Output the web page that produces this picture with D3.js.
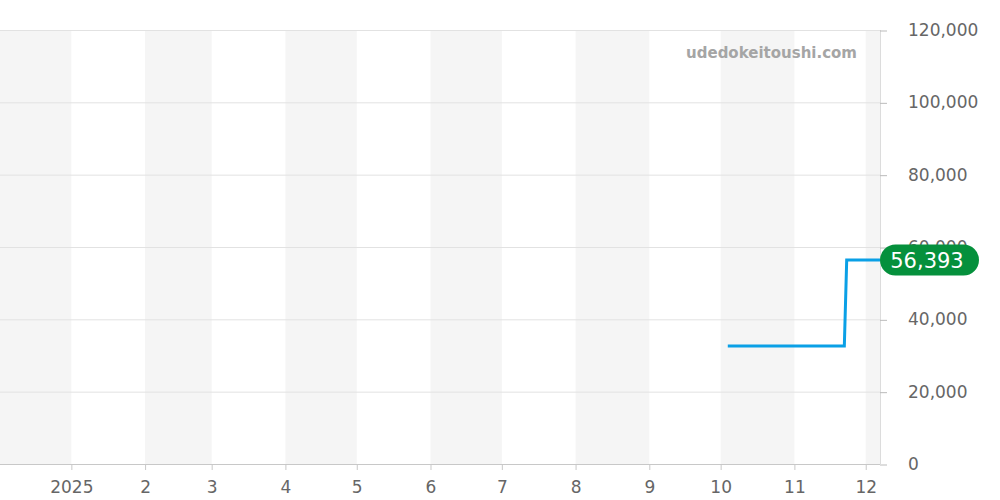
<!DOCTYPE html>
<html><head><meta charset="utf-8">
<script src="https://cdn.jsdelivr.net/npm/d3@7"></script>
<style>body{margin:0;background:#fff;font-family:"DejaVu Sans",sans-serif}</style>
</head><body><svg id="c" width="1000" height="500"></svg>
<script>
const dates = ["2025-10-04","2025-11-22","2025-11-23","2025-12-07"];
const prices = [32600, 32600, 56393, 56393];
const yTicks = [0,20000,40000,60000,80000,100000,120000];
const monthLabels = ["2025","2","3","4","5","6","7","8","9","10","11","12"];
const lastLabel = "56,393";
const watermark = "udedokeitoushi.com";

const parse = d3.timeParse("%Y-%m-%d");
const W=1000,H=500, L=0, R=880, T=30, B=464;
const svg = d3.select("#c");
const x = d3.scaleTime().domain([parse("2024-12-02"), parse("2025-12-07")]).range([L,R]);
const y = d3.scaleLinear().domain([0,120000]).range([B,T]);

// month bands
const months = d3.timeMonth.range(parse("2024-12-01"), parse("2026-01-01"));
svg.append("g").selectAll("rect").data(months.filter((m,i)=>i%2===0)).join("rect")
  .attr("x", d=>Math.max(L,x(d))).attr("y",T)
  .attr("width", d=>Math.min(R,x(d3.timeMonth.offset(d,1)))-Math.max(L,x(d)))
  .attr("height",B-T).attr("fill","#f5f5f5");

// grid
svg.append("g").selectAll("line").data(yTicks).join("line")
  .attr("x1",L).attr("x2",R).attr("y1",d=>y(d)+0.5).attr("y2",d=>y(d)+0.5)
  .attr("stroke","#e2e2e2");
svg.append("line").attr("x1",R+0.5).attr("x2",R+0.5).attr("y1",T).attr("y2",B).attr("stroke","#dcdcdc");

// y axis
const ya = svg.append("g").attr("transform",`translate(${R},0)`)
  .call(d3.axisRight(y).tickValues(yTicks).tickSize(7).tickPadding(21).tickFormat(d3.format(",")));
ya.select(".domain").remove();
ya.selectAll("line").attr("stroke","#bbb").attr("transform","translate(0,0.5)");
ya.selectAll("text").attr("fill","#666").attr("font-size",17).attr("font-family","DejaVu Sans");

// x axis
const tickDates = d3.timeMonth.range(parse("2025-01-01"), parse("2025-12-02"));
const xa = svg.append("g").attr("transform",`translate(0,${B})`)
  .call(d3.axisBottom(x).tickValues(tickDates).tickSize(6).tickPadding(11).tickFormat((d,i)=>monthLabels[i]));
xa.select(".domain").attr("d",`M${L},0.5H${R}`).attr("stroke","#c8c8c8");
xa.selectAll("line").attr("stroke","#c8c8c8");
xa.selectAll("text").attr("fill","#666").attr("font-size",17).attr("font-family","DejaVu Sans");

// line
const data = dates.map((d,i)=>({d:parse(d),v:prices[i]}));
svg.append("path").datum(data)
  .attr("d", d3.line().x(d=>x(d.d)).y(d=>y(d.v)))
  .attr("fill","none").attr("stroke","#0aa0e6").attr("stroke-width",3);

// watermark
svg.append("text").attr("x",857).attr("y",58).attr("text-anchor","end")
  .attr("font-size",15).attr("font-weight","bold").attr("fill","#a5a5a5").text(watermark);

// last label
const ly = y(prices[prices.length-1]);
svg.append("rect").attr("x",880).attr("y",ly-15.5).attr("width",99).attr("height",31).attr("rx",15.5)
  .attr("fill","#05903c");
svg.append("text").attr("x",927).attr("y",ly+8).attr("text-anchor","middle")
  .attr("font-size",21).attr("fill","#fff").text(lastLabel);
</script></body></html>
